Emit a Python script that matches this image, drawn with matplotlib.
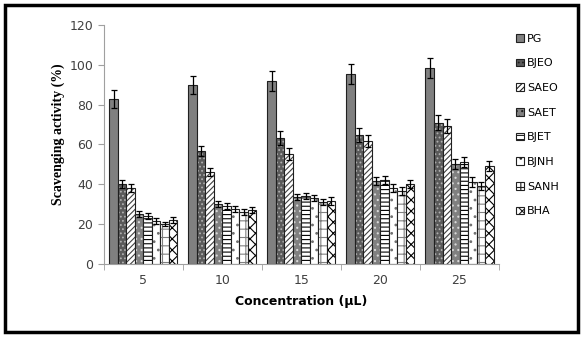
import numpy as np
import matplotlib
matplotlib.use("Agg")
import matplotlib.pyplot as plt
from matplotlib.patches import Rectangle, Patch

concentrations = ["5", "10", "15", "20", "25"]
series = ["PG", "BJEO", "SAEO", "SAET", "BJET", "BJNH", "SANH", "BHA"]

PG = [83, 90, 92, 95.3, 98.3]
BJEO = [40, 56.5, 63, 64.7, 71]
SAEO = [38, 46, 55, 61.5, 69.3]
SAET = [25, 30, 33.5, 41.7, 50]
BJET = [24, 29, 34, 42, 51.4]
BJNH = [21.5, 27.5, 33, 38.3, 40.9]
SANH = [20, 26, 31, 36.7, 39.2]
BHA = [22, 27, 31.5, 40, 49.2]

PG_err = [4.5, 4.5, 5, 5, 5]
BJEO_err = [2, 2.5, 3.5, 3.5, 4]
SAEO_err = [2, 2, 3, 3, 3.5]
SAET_err = [1.5, 1.5, 1.5, 2, 2.5]
BJET_err = [1.5, 1.5, 1.5, 2, 2.5]
BJNH_err = [1.5, 1.5, 1.5, 2, 2.5]
SANH_err = [1, 1.5, 1.5, 2, 2]
BHA_err = [1.5, 1.5, 2, 2, 2.5]

values = [PG, BJEO, SAEO, SAET, BJET, BJNH, SANH, BHA]
errors = [PG_err, BJEO_err, SAEO_err, SAET_err, BJET_err, BJNH_err, SANH_err, BHA_err]

# (face, hatch, hatch colour)
styles = [
    ("#808080", "", "#808080"),
    ("#5a5a5a", "....", "#b0b0b0"),
    ("white", "//////", "#404040"),
    ("#808080", "...", "#d8d8d8"),
    ("white", "----", "black"),
    ("white", "..", "#707070"),
    ("white", "++", "#808080"),
    ("white", "xxx", "black"),
]

plt.rcParams['hatch.linewidth'] = 0.8
fig = plt.figure(figsize=(5.83, 3.37), dpi=100)
ax = fig.add_axes([0.178, 0.217, 0.678, 0.709])

x = np.arange(len(concentrations))
w = 0.1076
handles = []
for i, (name, vals, errs) in enumerate(zip(series, values, errors)):
    face, hatch, hcol = styles[i]
    pos = x - 4 * w + w / 2 + i * w
    ax.bar(pos, vals, w, color=face, edgecolor=hcol, hatch=hatch, linewidth=0)
    ax.bar(pos, vals, w, fill=False, edgecolor="#202020", linewidth=0.8)
    ax.errorbar(pos, vals, yerr=errs, fmt="none", ecolor="black", elinewidth=0.9,
                capsize=2.5, capthick=0.9)
    handles.append(Patch(facecolor=face, edgecolor="#202020", hatch=hatch, linewidth=0.8))

ax.set_xlim(-0.5, 4.5)
ax.set_ylim(0, 120)
ax.set_yticks(range(0, 121, 20))
ax.set_xticks(x)
ax.set_xticklabels(concentrations)
ax.set_xticks(np.arange(-0.5, 4.6, 1), minor=True)
ax.tick_params(axis="x", which="major", length=0, labelsize=9, pad=7)
ax.tick_params(axis="x", which="minor", length=4, color="#a0a0a0", direction="out")
ax.tick_params(axis="y", length=4, color="#a0a0a0", labelsize=9, labelcolor="#404040")
ax.tick_params(axis="x", labelcolor="#404040")
for s in ["top", "right"]:
    ax.spines[s].set_visible(False)
for s in ["left", "bottom"]:
    ax.spines[s].set_color("#a0a0a0")
    ax.spines[s].set_linewidth(0.8)

ax.set_ylabel("Scavenging activity (%)", fontfamily="Liberation Serif",
              fontweight="bold", fontsize=10)
ax.yaxis.set_label_coords(-0.098, 0.544)
ax.set_xlabel("Concentration (\u00b5L)", fontweight="bold", fontsize=9, labelpad=6)

fig.legend(handles, series, loc="upper left", bbox_to_anchor=(0.878, 0.913),
           frameon=False, fontsize=8, handlelength=0.65, handleheight=0.65,
           handletextpad=0.3, labelspacing=1.32, borderaxespad=0)

fig.patches.append(Rectangle((0.009, 0.014), 0.982, 0.97, transform=fig.transFigure,
                             fill=False, edgecolor="black", linewidth=2.5))

fig.savefig("out.png", dpi=100)
